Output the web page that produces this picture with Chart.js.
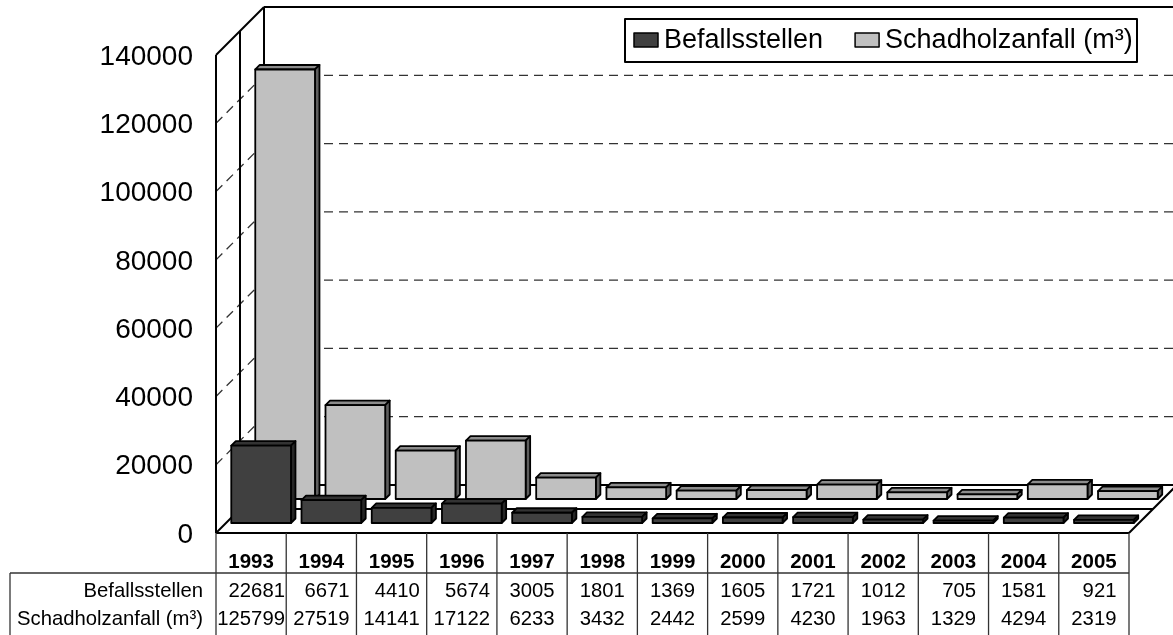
<!DOCTYPE html>
<html>
<head>
<meta charset="utf-8">
<script src="https://cdn.jsdelivr.net/npm/chart.js@4.4.1/dist/chart.umd.min.js"></script>
<style>
  html, body { margin: 0; padding: 0; background: #fff; }
  #wrap { width: 1173px; height: 635px; position: relative; }
</style>
</head>
<body>
<div id="wrap"><canvas id="chart"></canvas></div>
<script>
// data
const years = ["1993", "1994", "1995", "1996", "1997", "1998", "1999", "2000", "2001", "2002", "2003", "2004", "2005"];
const befallsstellen = [22681, 6671, 4410, 5674, 3005, 1801, 1369, 1605, 1721, 1012, 705, 1581, 921];
const schadholz = [125799, 27519, 14141, 17122, 6233, 3432, 2442, 2599, 4230, 1963, 1329, 4294, 2319];
const seriesNames = ["Befallsstellen", "Schadholzanfall (m³)"];
const yTicks = [0, 20000, 40000, 60000, 80000, 100000, 120000, 140000];

// look
const FONT = "'Liberation Sans', Arial, sans-serif";
const FACE = [
    {front: "#404040", top: "#333333", side: "#262626"},   // dark series
    {front: "#c0c0c0", top: "#8c8c8c", side: "#5e5e5e"}    // light series
];
const DEPTH = 24;      // depth of one series row (45 deg)
const BAR_OFF = 10;    // where the bar sits inside its row
const BAR_D = 4.5;     // thickness of bar
const BAR_W = 0.85;    // share of category width

function line(ctx, x1, y1, x2, y2) {
    ctx.beginPath();
    ctx.moveTo(x1, y1);
    ctx.lineTo(x2, y2);
    ctx.stroke();
}

function poly(ctx, pts, fill) {
    ctx.beginPath();
    ctx.moveTo(pts[0][0], pts[0][1]);
    for (let i = 1; i < pts.length; i++) ctx.lineTo(pts[i][0], pts[i][1]);
    ctx.closePath();
    ctx.fillStyle = fill;
    ctx.fill();
    ctx.stroke();
}

function bar3d(ctx, x0, x1, yT, yB, c) {
    const d = BAR_D;
    ctx.lineWidth = 1.8;
    ctx.strokeStyle = "#000";
    ctx.lineJoin = "round";
    poly(ctx, [[x0, yT], [x0 + d, yT - d], [x1 + d, yT - d], [x1, yT]], c.top);
    poly(ctx, [[x1, yT], [x1 + d, yT - d], [x1 + d, yB - d], [x1, yB]], c.side);
    poly(ctx, [[x0, yT], [x1, yT], [x1, yB], [x0, yB]], c.front);
}

const box3d = {
    id: "box3d",
    beforeDatasetsDraw(chart) {
        const ctx = chart.ctx;
        const xs = chart.scales.x, ys = chart.scales.y;
        const a = chart.chartArea;
        const L = a.left, R = a.right, T = a.top, B = a.bottom;
        const D2 = DEPTH * 2;
        const cw = (R - L) / years.length;

        ctx.save();
        ctx.strokeStyle = "#000";
        ctx.fillStyle = "#fff";
        // dashed gridlines on back and left wall
        ctx.save();
        ctx.setLineDash([9, 6]);
        ctx.lineWidth = 1.3;
        ctx.strokeStyle = "#333";
        yTicks.forEach(v => {
            if (v === 0 || v === yTicks[yTicks.length - 1]) return;
            const y = ys.getPixelForValue(v);
            line(ctx, L, y, L + D2, y - D2);
            line(ctx, L + D2, y - D2, chart.width + 5, y - D2);
        });
        ctx.restore();

        ctx.lineWidth = 2;
        // left wall edges
        line(ctx, L, T, L, B);
        line(ctx, L + DEPTH, T - DEPTH, L + DEPTH, B - DEPTH);
        line(ctx, L + D2, T - D2, L + D2, B - D2);
        line(ctx, L, T, L + D2, T - D2);
        // back wall top
        line(ctx, L + D2, T - D2, chart.width + 5, T - D2);
        // floor
        line(ctx, L, B, R, B);
        line(ctx, L, B, L + D2, B - D2);
        line(ctx, R, B, R + D2, B - D2);
        line(ctx, L + DEPTH, B - DEPTH, R + DEPTH, B - DEPTH);
        line(ctx, L + D2, B - D2, R + D2, B - D2);

        // bars, back row first
        const rows = [schadholz, befallsstellen];
        const faces = [FACE[1], FACE[0]];
        const offs = [DEPTH + BAR_OFF, BAR_OFF];
        rows.forEach((vals, r) => {
            const o = offs[r];
            vals.forEach((v, i) => {
                const xc = xs.getPixelForValue(i);
                const w = cw * BAR_W;
                const x0 = xc - w / 2 + o;
                bar3d(ctx, x0, x0 + w, ys.getPixelForValue(v) - o, ys.getPixelForValue(0) - o, faces[r]);
            });
        });

        // y tick labels
        ctx.fillStyle = "#000";
        ctx.font = "28px " + FONT;
        ctx.textAlign = "right";
        ctx.textBaseline = "middle";
        yTicks.forEach(v => ctx.fillText(String(v), L - 23, ys.getPixelForValue(v) + 2));

        // data table
        ctx.strokeStyle = "#333";
        ctx.lineWidth = 1.3;
        const rowTop = B + 40;
        for (let i = 0; i <= years.length; i++) {
            const x = L + i * cw;
            line(ctx, x, B, x, chart.height);
        }
        line(ctx, 10, rowTop, R, rowTop);
        line(ctx, 10, rowTop, 10, chart.height);
        ctx.font = "bold 20.5px " + FONT;
        ctx.textAlign = "center";
        years.forEach((y, i) => ctx.fillText(y, xs.getPixelForValue(i), B + 29));
        ctx.font = "20.3px " + FONT;
        ctx.textAlign = "right";
        ctx.fillText(seriesNames[0], 203, rowTop + 18);
        ctx.fillText(seriesNames[1], 203, rowTop + 46);
        years.forEach((y, i) => {
            const a1 = String(befallsstellen[i]), a2 = String(schadholz[i]);
            const mw = Math.max(ctx.measureText(a1).width, ctx.measureText(a2).width);
            const xr = xs.getPixelForValue(i) + mw / 2;
            ctx.fillText(a1, xr, rowTop + 18);
            ctx.fillText(a2, xr, rowTop + 46);
        });

        // legend
        ctx.lineWidth = 2;
        ctx.strokeStyle = "#000";
        ctx.fillStyle = "#fff";
        ctx.fillRect(625, 19, 512, 43);
        ctx.strokeRect(625, 19, 512, 43);
        ctx.font = "27px " + FONT;
        ctx.textAlign = "left";
        ctx.lineWidth = 1.5;
        let lx = 634;
        seriesNames.forEach((n, i) => {
            ctx.fillStyle = FACE[i].front;
            ctx.fillRect(lx, 33, 24, 14);
            ctx.strokeRect(lx, 33, 24, 14);
            ctx.fillStyle = "#000";
            ctx.fillText(n, lx + 30, 41);
            lx += 30 + ctx.measureText(n).width + 32;
        });
        ctx.restore();
        return false;
    }
};

new Chart(document.getElementById("chart"), {
    type: "bar",
    data: {
        labels: years,
        datasets: [
            {label: seriesNames[0], data: befallsstellen, backgroundColor: FACE[0].front},
            {label: seriesNames[1], data: schadholz, backgroundColor: FACE[1].front}
        ]
    },
    options: {
        responsive: true,
        maintainAspectRatio: false,
        animation: false,
        layout: {padding: {left: 216, right: 44, top: 55, bottom: 102}},
        plugins: {legend: {display: false}, tooltip: {enabled: false}},
        scales: {
            x: {display: false},
            y: {display: false, min: 0, max: 140000, ticks: {stepSize: 20000}}
        }
    },
    plugins: [box3d]
});
</script>
</body>
</html>
